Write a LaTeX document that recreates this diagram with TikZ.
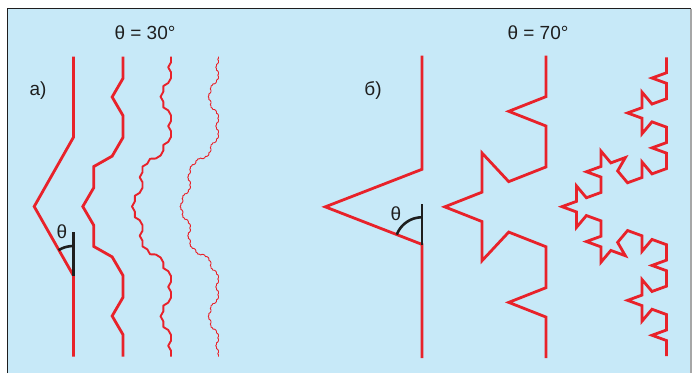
\documentclass[tikz,border=0pt]{standalone}
\usepackage{fontspec}
\setmainfont{Liberation Sans}
\definecolor{kred}{RGB}{232,34,42}
\definecolor{kbg}{RGB}{199,233,248}
\definecolor{kblack}{RGB}{30,30,30}
\newcommand\kochA{0.3}
\newcommand\kochH{0.1}
\newcommand\kochseg[5]{%
  \ifnum#1=0
    \xdef\kochpath{\kochpath -- (#4,#5)}%
  \else
    \begingroup
      \pgfmathsetmacro\kdx{(#4)-(#2)}%
      \pgfmathsetmacro\kdy{(#5)-(#3)}%
      \pgfmathsetmacro\kax{(#2)+\kochA*(\kdx)}%
      \pgfmathsetmacro\kay{(#3)+\kochA*(\kdy)}%
      \pgfmathsetmacro\kbx{(#2)+(1-\kochA)*(\kdx)}%
      \pgfmathsetmacro\kby{(#3)+(1-\kochA)*(\kdy)}%
      \pgfmathsetmacro\kmx{(#2)+0.5*(\kdx)-\kochH*(\kdy)}%
      \pgfmathsetmacro\kmy{(#3)+0.5*(\kdy)+\kochH*(\kdx)}%
      \edef\knext{%
        \noexpand\kochseg{\the\numexpr#1-1\relax}{#2}{#3}{\kax}{\kay}%
        \noexpand\kochseg{\the\numexpr#1-1\relax}{\kax}{\kay}{\kmx}{\kmy}%
        \noexpand\kochseg{\the\numexpr#1-1\relax}{\kmx}{\kmy}{\kbx}{\kby}%
        \noexpand\kochseg{\the\numexpr#1-1\relax}{\kbx}{\kby}{#4}{#5}%
      }%
    \expandafter\endgroup\knext
  \fi
}
\newcommand\kochcurve[7]{% style, level, a, h, x, ytop, ybottom
  \def\kochA{#3}\def\kochH{#4}%
  \gdef\kochpath{}%
  \kochseg{#2}{#5}{#6}{#5}{#7}%
  \edef\kochdraw{\noexpand\draw[#1] (#5,#6) \kochpath;}%
  \kochdraw
}
\tikzset{
  kline/.style={draw=kred, line width=2.8pt, miter limit=4},
  kthin/.style={draw=kred, line width=1.9pt, line join=round},
  khair/.style={draw=kred, line width=0.9pt, line join=round},
  kmark/.style={draw=kblack, line width=2.6pt},
  lbl/.style={inner sep=0pt, font=\fontsize{19}{22}\selectfont, text=kblack}
}
\begin{document}
\begin{tikzpicture}[x=1pt,y=-1pt]
\useasboundingbox (0,0) rectangle (696,373);
\fill[white] (0,0) rectangle (696,373);
\fill[kbg] (7.5,8.5) rectangle (691,373);
\draw[kblack, line width=1.3pt] (7.5,373) -- (7.5,8.5) -- (691,8.5);
\draw[gray!70, line width=1.6pt] (691,8.5) -- (691,373);

% theta = 30
\kochcurve{kline}{1}{0.269}{0.131}{73.5}{56.5}{356.5}
\kochcurve{kline}{2}{0.27}{0.134}{123}{56.5}{356.5}
\kochcurve{kthin}{3}{0.268}{0.13}{171}{56.5}{356.5}
\kochcurve{khair}{4}{0.268}{0.128}{218.5}{56.5}{356.5}

% theta = 70
\kochcurve{kline}{1}{0.3758}{0.32}{422}{55.7}{358}
\kochcurve{kline}{2}{0.368}{0.335}{546}{55.7}{358}
\kochcurve{kline}{3}{0.3726}{0.35}{666.5}{57.3}{356}

% angle markers
\draw[kmark] (73.5,232) -- (73.5,275.5);
\draw[kmark] plot[domain=90:121, samples=20] ({73.5+29*cos(\x)}, {275-29*sin(\x)});
\draw[kmark] (422,204) -- (422,245);
\draw[kmark] plot[domain=90:159, samples=30] ({422+27*cos(\x)}, {244.3-27*sin(\x)});

% labels
\node[lbl] (t30) at (145,33) {θ = 30°};
\node[lbl] (t70) at (538,33) {θ = 70°};
\node[lbl] (la) at (38,91) {а)};
\node[lbl] (lb) at (373,90) {б)};
\node[lbl] (th1) at (62,232) {θ};
\node[lbl] (th2) at (396,214) {θ};
\end{tikzpicture}
\end{document}
